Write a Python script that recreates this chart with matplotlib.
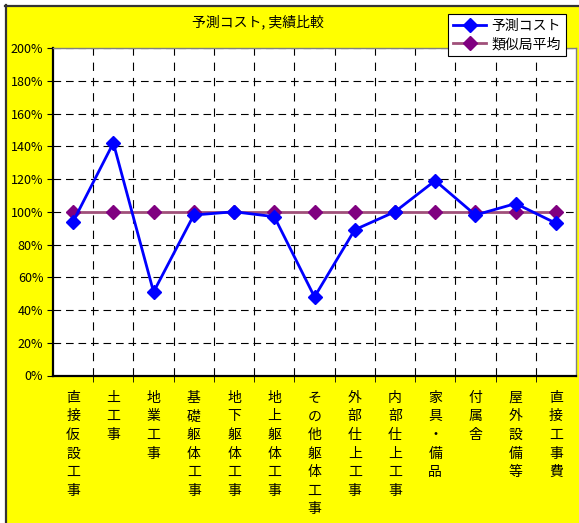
import matplotlib
matplotlib.use("Agg")
import matplotlib.pyplot as plt
from matplotlib.lines import Line2D
from matplotlib.patches import Rectangle
from matplotlib.ticker import FuncFormatter, MultipleLocator

plt.rcParams['font.family'] = ['Noto Sans CJK JP', 'DejaVu Sans']
plt.rcParams['lines.scale_dashes'] = False

# 工種ごとの比率 (%)
categories = ['直接仮設工事', '土工事', '地業工事', '基礎躯体工事', '地下躯体工事',
              '地上躯体工事', 'その他躯体工事', '外部仕上工事', '内部仕上工事',
              '家具・備品', '付属舎', '屋外設備等', '直接工事費']
forecast = [94, 142, 51, 98, 100, 97, 48, 89, 100, 119, 98, 105, 93]
similar_avg = [100] * 13

W, H = 579, 523
fig = plt.figure(figsize=(W / 100, H / 100), dpi=100, facecolor='white')

# 黄色の背景と左・上の枠線
fig.patches.append(Rectangle((5 / W, 0), 1, (H - 5) / H, transform=fig.transFigure,
                             facecolor='#FFFF00', edgecolor='none', zorder=-5))
fig.lines.append(Line2D([5.5 / W, 5.5 / W], [0, 1 - 5 / H], transform=fig.transFigure,
                        color='#333333', linewidth=1.6))
fig.lines.append(Line2D([5 / W, 1], [1 - 5.5 / H, 1 - 5.5 / H], transform=fig.transFigure,
                        color='#333333', linewidth=1.6))

ax = fig.add_axes([53 / W, (H - 375.5) / H, (576 - 53) / W, (375.5 - 48) / H])
ax.set_facecolor('white')

x = list(range(len(categories)))
ax.plot(x, similar_avg, color='#A0507A', linewidth=2, marker='D', markersize=7,
        markerfacecolor='#800080', markeredgecolor='#800080', label='類似局平均', zorder=3)
ax.plot(x, forecast, color='#0000FF', linewidth=2, marker='D', markersize=7,
        markerfacecolor='#0000FF', markeredgecolor='#0000FF', label='予測コスト', zorder=4)

ax.set_xlim(-0.5, len(categories) - 0.5)
ax.set_ylim(0, 200)
ax.yaxis.set_major_locator(MultipleLocator(20))
ax.yaxis.set_major_formatter(FuncFormatter(lambda v, p: f'{v:.0f}%'))

ax.set_xticks(x)
ax.set_xticklabels(['\n'.join(c) for c in categories], fontsize=10, linespacing=1.42,
                   va='top')
ax.set_xticks([i + 0.5 for i in x[:-1]], minor=True)
ax.tick_params(axis='x', which='major', length=0, pad=11)
ax.tick_params(axis='x', which='minor', length=4, direction='out', color='black')
ax.tick_params(axis='y', length=4, direction='out', labelsize=9, pad=3)

ax.grid(True, axis='y', which='major', color='black', linestyle=(0, (5.5, 3.5)), linewidth=0.8)
ax.grid(True, axis='x', which='minor', color='black', linestyle=(0, (6, 5)), linewidth=0.8)

for s in ['top', 'right']:
    ax.spines[s].set_color('#808080')
    ax.spines[s].set_linewidth(1)
for s in ['left', 'bottom']:
    ax.spines[s].set_color('black')
    ax.spines[s].set_linewidth(1.6)

fig.text(258 / W, 1 - 22 / H, '予測コスト, 実績比較', ha='center', va='center', fontsize=10)

h, l = ax.get_legend_handles_labels()
leg = fig.legend(h[::-1], l[::-1], loc='upper left', bbox_to_anchor=(448 / W, 1 - 14 / H),
                 fontsize=10, frameon=True, fancybox=False, edgecolor='black',
                 framealpha=1, borderpad=0.35, labelspacing=0.3, handlelength=2.4,
                 handletextpad=0.4, borderaxespad=0)
leg.get_frame().set_linewidth(0.8)

fig.savefig('out.png', dpi=100, facecolor=fig.get_facecolor())
